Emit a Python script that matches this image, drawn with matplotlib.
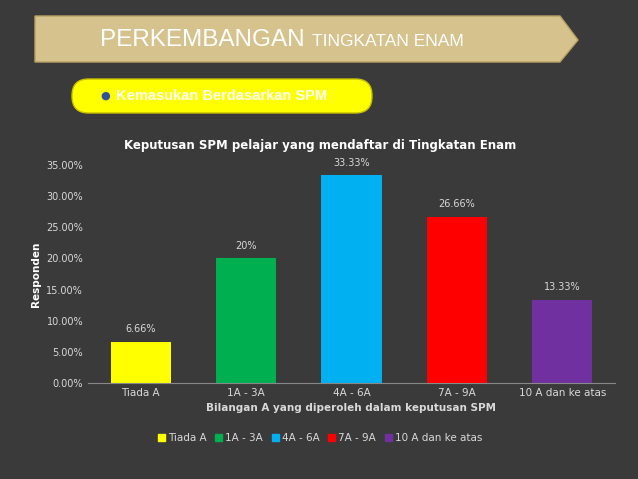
import matplotlib
matplotlib.use("Agg")
import matplotlib.pyplot as plt
from matplotlib.patches import Polygon, FancyBboxPatch

categories = ["Tiada A", "1A - 3A", "4A - 6A", "7A - 9A", "10 A dan ke atas"]
values = [0.0666, 0.20, 0.3333, 0.2666, 0.1333]
labels = ["6.66%", "20%", "33.33%", "26.66%", "13.33%"]
colors = ["#ffff00", "#00b050", "#00b0f0", "#ff0000", "#7030a0"]
yticks = [0, 0.05, 0.10, 0.15, 0.20, 0.25, 0.30, 0.35]

W, H = 638, 479
fig = plt.figure(figsize=(W/100, H/100), dpi=100)
fig.patch.set_facecolor("#3a3a3a")

def fx(x): return x / W
def fy(y): return 1 - y / H

# banner
ban = Polygon([(fx(35), fy(16)), (fx(560), fy(16)), (fx(578), fy(40)),
               (fx(560), fy(62)), (fx(35), fy(62))], closed=True,
              transform=fig.transFigure, facecolor="#d6c28c", edgecolor="#b8a060", lw=1)
fig.patches.append(ban)
fig.text(fx(100), fy(40), "PERKEMBANGAN", color="white", fontsize=17.5, va="center",
         family="Liberation Sans")
fig.text(fx(312), fy(41), "TINGKATAN ENAM", color="white", fontsize=12.5, va="center",
         family="Liberation Sans")

pill = FancyBboxPatch((fx(72), fy(113)), fx(300), fy(79) - fy(113),
                      boxstyle="round,pad=0,rounding_size=0.026", mutation_aspect=1.33,
                      transform=fig.transFigure, facecolor="#ffff00", edgecolor="#c8c000", lw=1)
fig.patches.append(pill)
fig.text(fx(100), fy(96), "\u25cf", color="#3050a0", fontsize=8, va="center")
fig.text(fx(116), fy(96), "Kemasukan Berdasarkan SPM", color="white", fontsize=10.5,
         fontweight="bold", va="center", family="Liberation Sans")

ax = fig.add_axes([fx(88), fy(383), fx(615) - fx(88), fy(165) - fy(383)])
ax.set_facecolor("none")
x = range(len(categories))
ax.bar(x, values, width=0.57, color=colors)
for i, (v, l) in enumerate(zip(values, labels)):
    ax.text(i, v + 0.012, l, ha="center", va="bottom", color="#d9d9d9", fontsize=7)
ax.set_ylim(0, 0.35)
ax.set_xlim(-0.5, 4.5)
ax.set_yticks(yticks)
ax.set_yticklabels([f"{t*100:.2f}%" for t in yticks], color="#d9d9d9", fontsize=7)
ax.set_xticks(list(x))
ax.set_xticklabels(categories, color="#d9d9d9", fontsize=7.5)
ax.tick_params(length=0)
for s in ["top", "right", "left"]:
    ax.spines[s].set_visible(False)
ax.spines["bottom"].set_color("#888888")
ax.set_ylabel("Responden", color="white", fontsize=7.5, fontweight="bold")
ax.set_xlabel("Bilangan A yang diperoleh dalam keputusan SPM", color="#d9d9d9",
              fontsize=7.5, fontweight="bold")
fig.text(fx(320), fy(146), "Keputusan SPM pelajar yang mendaftar di Tingkatan Enam",
         ha="center", va="center", color="white", fontsize=8.5, fontweight="bold")

handles = [plt.Rectangle((0, 0), 1, 1, color=c) for c in colors]
fig.legend(handles, categories, loc="center", bbox_to_anchor=(fx(320), fy(438)),
           ncol=5, frameon=False, fontsize=7.5, labelcolor="#d9d9d9",
           handlelength=0.7, handleheight=0.7, columnspacing=0.8, handletextpad=0.3)

fig.savefig("out.png", dpi=100, facecolor=fig.get_facecolor())
